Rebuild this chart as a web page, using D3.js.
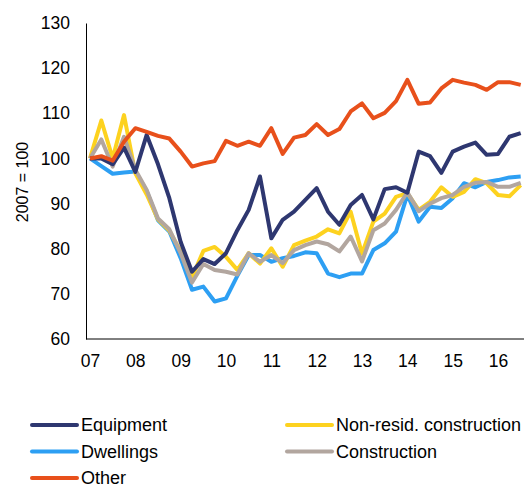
<!DOCTYPE html>
<html>
<head>
<meta charset="utf-8">
<script src="https://cdn.jsdelivr.net/npm/d3@7"></script>
<style>
    body { margin: 0; background: #fff; }
    svg { display: block; font-family: "Liberation Sans", Arial, sans-serif; }
</style>
</head>
<body>
<svg id="drawing_region"></svg>
<script>
// quarterly, 2007Q1 .. 2016Q3
const years = ['07', '08', '09', '10', '11', '12', '13', '14', '15', '16'];
const yTicks = [60, 70, 80, 90, 100, 110, 120, 130];

const equipment = [100, 100, 98.7, 102.4, 97, 105.2, 98.7, 91.2, 81.5, 74.9, 77.7, 76.6, 79, 84.1, 88.6, 96, 82.3, 86.4, 88.2, 90.8,
    93.4, 88.2, 85.3, 89.7, 91.9, 86.5, 93.2, 93.6, 92.4, 101.5, 100.5, 96.8, 101.5, 102.6, 103.5, 100.8, 101, 104.8, 105.6];
const nonResid = [100, 108.4, 100, 109.6, 96.7, 92, 86.5, 84, 79.4, 73.6, 79.5, 80.4, 78.2, 75.3, 79, 76.7, 80.1, 76, 80.8, 81.8,
    82.7, 84.3, 83.4, 88.2, 78.9, 86, 87.8, 91.5, 92.3, 88.6, 90.4, 93.6, 91.5, 92.6, 95.4, 94.5, 91.9, 91.6, 94.1];
const dwellings = [100, 98.3, 96.6, 96.9, 97.1, 92.8, 86.3, 83.8, 77.9, 70.9, 71.6, 68.3, 69, 74, 78.6, 78.6, 77.1, 77.9, 78.4, 79.2,
    79, 74.5, 73.7, 74.5, 74.5, 79.7, 81.2, 83.8, 92, 86, 89.3, 89, 91.2, 94.5, 93.6, 94.8, 95.2, 95.8, 96];
const construction = [100, 104.2, 98.2, 104.8, 97.5, 93, 86.7, 84.3, 79, 72.5, 76.6, 75.3, 74.9, 74.3, 79, 77.1, 78.6, 76.8, 79.7, 80.8,
    81.6, 81, 79.4, 82.7, 77.2, 84.1, 85.6, 88.6, 92.5, 88.3, 90, 91.2, 91.9, 93.7, 94.6, 94.8, 93.7, 93.7, 94.6];
const other = [100, 100.5, 99.5, 103.7, 106.7, 105.9, 105, 104.4, 101.5, 98.2, 98.9, 99.4, 103.9, 102.8, 103.7, 102.8, 106.7, 101, 104.6, 105.2,
    107.6, 105.2, 106.5, 110.4, 112.2, 108.9, 110.1, 112.7, 117.4, 112.1, 112.4, 115.5, 117.4, 116.8, 116.3, 115.2, 116.9, 116.9, 116.3];

const series = [
    { name: 'Equipment', values: equipment, color: '#2e3770', col: 0, row: 0 },
    { name: 'Non-resid. construction', values: nonResid, color: '#fdd21f', col: 1, row: 0 },
    { name: 'Dwellings', values: dwellings, color: '#2d9ff3', col: 0, row: 1 },
    { name: 'Construction', values: construction, color: '#b2a69f', col: 1, row: 1 },
    { name: 'Other', values: other, color: '#e8501b', col: 0, row: 2 }
];

const config = {
    width: 525,
    height: 488,
    left: 86, right: 524, top: 23, bottom: 339,
    firstX: 90, lastX: 520.7
};

const svg = d3.select('#drawing_region')
    .attr('width', config.width)
    .attr('height', config.height);

const n = equipment.length;
const xScale = d3.scaleLinear()
    .domain([0, n - 1])
    .range([config.firstX, config.lastX]);

const yScale = d3.scaleLinear()
    .domain([60, 130])
    .range([config.bottom, config.top]);

// y axis
const yAxis = d3.axisLeft(yScale)
    .tickValues(yTicks)
    .tickSize(0)
    .tickPadding(16);

svg.append('g')
    .attr('transform', `translate(${config.left},0)`)
    .call(yAxis)
    .call(g => g.select('.domain').attr('stroke', '#000').attr('stroke-width', 1))
    .call(g => g.selectAll('text')
        .attr('font-size', '17.5px')
        .attr('fill', '#000')
        .attr('font-family', '"Liberation Sans", Arial, sans-serif'));

// x axis: label at the first quarter of each year
const xAxis = d3.axisBottom(xScale)
    .tickValues(years.map((d, i) => i * 4))
    .tickFormat((d, i) => years[i])
    .tickSize(0)
    .tickPadding(16);

const xg = svg.append('g')
    .attr('transform', `translate(0,${config.bottom})`)
    .call(xAxis);
xg.select('.domain').remove();
xg.append('line')
    .attr('x1', config.left).attr('x2', config.right)
    .attr('stroke', '#000').attr('stroke-width', 1);
xg.selectAll('text')
    .attr('font-size', '17.5px')
    .attr('fill', '#000')
    .attr('font-family', '"Liberation Sans", Arial, sans-serif');

svg.append('text')
    .attr('transform', 'translate(22,182) rotate(-90)')
    .attr('text-anchor', 'middle')
    .attr('dominant-baseline', 'central')
    .attr('font-size', '16px')
    .text('2007 = 100');

const line = d3.line()
    .x((d, i) => xScale(i))
    .y(d => yScale(d));

const drawOrder = [2, 1, 3, 0, 4];
svg.append('g')
    .selectAll('path')
    .data(drawOrder.map(k => series[k]))
    .join('path')
    .attr('d', d => line(d.values))
    .attr('fill', 'none')
    .attr('stroke', d => d.color)
    .attr('stroke-width', 4)
    .attr('stroke-linejoin', 'round');

// legend
const legend = svg.append('g');
const item = legend.selectAll('g')
    .data(series)
    .join('g')
    .attr('transform', d => `translate(${d.col === 0 ? 32 : 287},${425 + d.row * 26.5})`);

item.append('line')
    .attr('x1', 0).attr('x2', 45)
    .attr('stroke', d => d.color)
    .attr('stroke-width', 4)
    .attr('stroke-linecap', 'round');

item.append('text')
    .attr('x', 49)
    .attr('dominant-baseline', 'central')
    .attr('font-size', '18px')
    .attr('fill', '#000')
    .text(d => d.name);
</script>
</body>
</html>
